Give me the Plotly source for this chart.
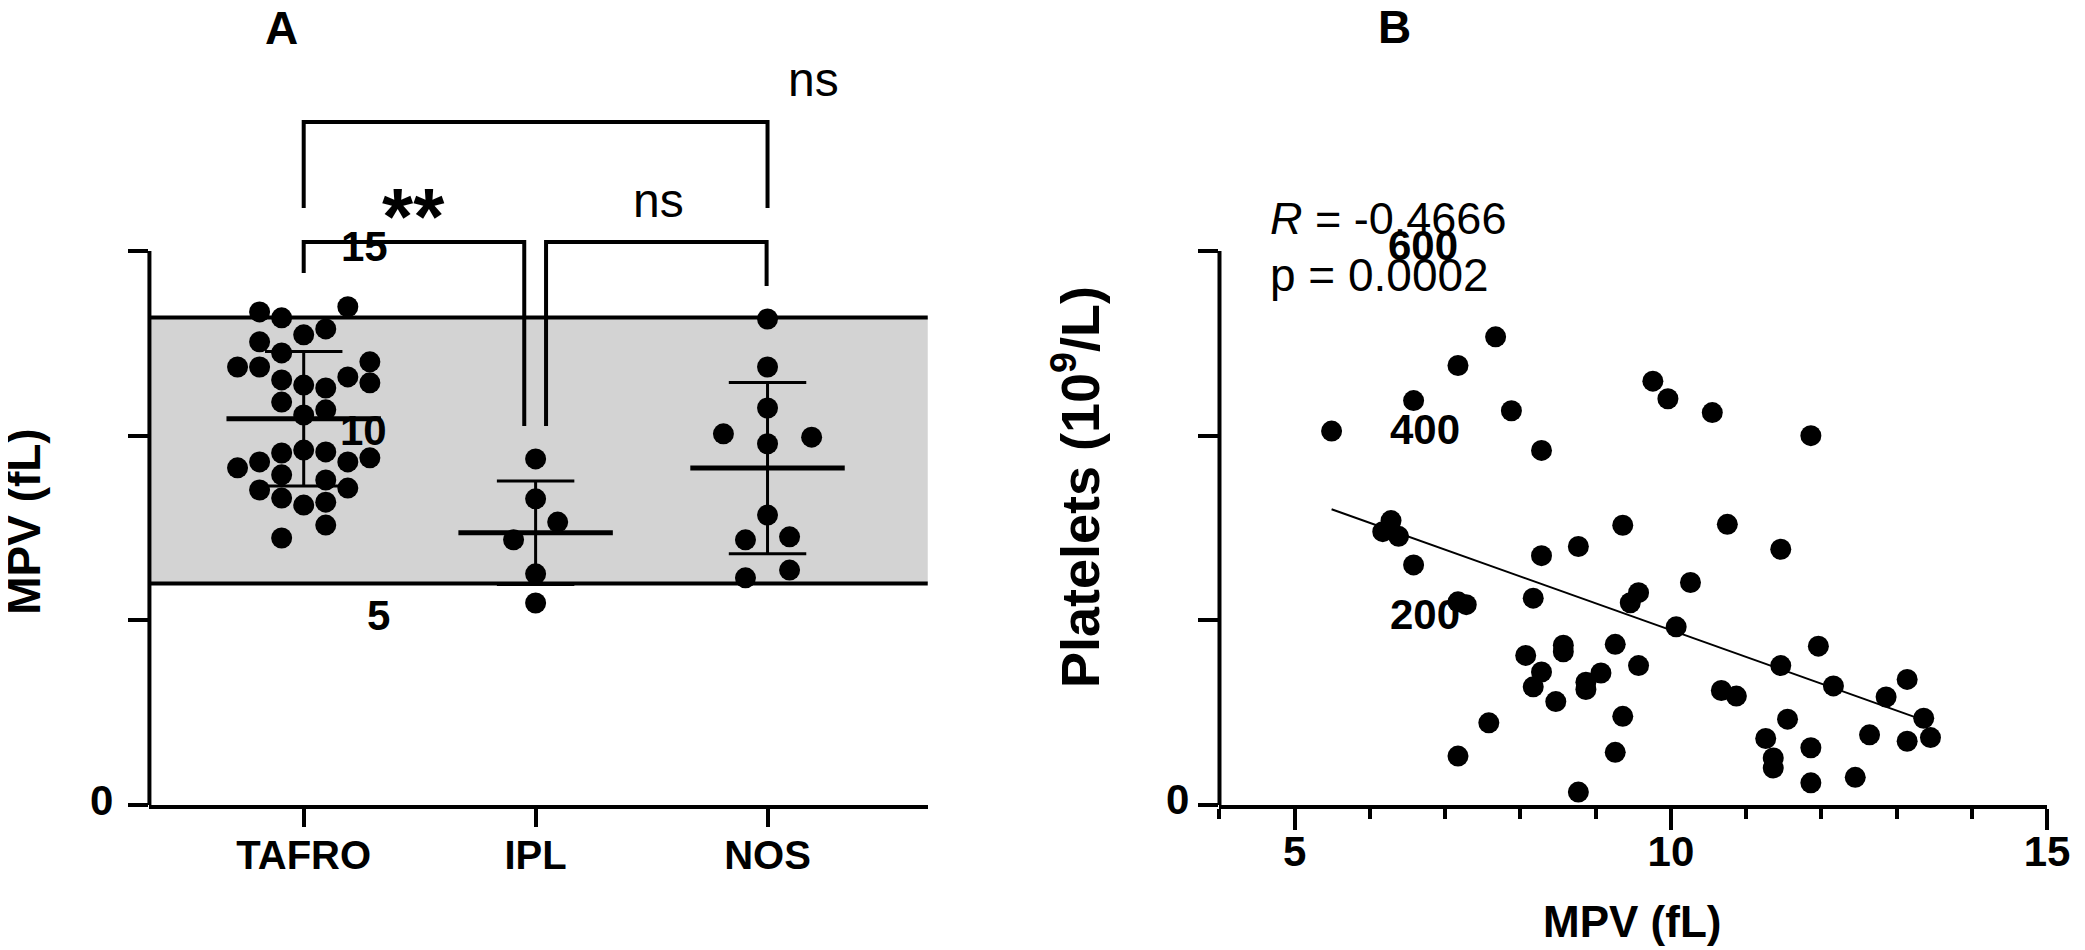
import numpy as np
import plotly.graph_objects as go

W, H = 2085, 950
OFF_X, OFF_Y = 0, 8            # page offset of the figure in the photographed window
FONT = "Liberation Sans, Arial, sans-serif"

# ---------------- Panel A data ----------------
groups = ["TAFRO", "IPL", "NOS"]
tafro_mpv = [13.35, 13.19, 13.49, 12.89, 12.73, 12.54, 12.24, 11.86, 11.86, 12.00,
             11.59, 11.43, 11.51, 11.37, 11.29, 10.91, 10.70, 10.56, 9.61, 9.53,
             9.56, 9.29, 9.29, 9.40, 9.13, 8.94, 8.80, 8.53, 8.58, 8.31,
             8.12, 8.20, 7.58, 7.23]
tafro_slot = [-2, -1, 2, 1, 0, -2, -1, -3, -2, 3, 2, 3, -1, 0, 1, -1, 1, 0,
              0, -1, 1, -2, 2, 3, -3, -1, 1, -2, 2, -1, 0, 1, 1, -1]
ipl_mpv = [9.37, 8.29, 7.66, 7.18, 6.26, 5.47]
ipl_slot = [0, 0, 1, -1, 0, 0]
nos_mpv = [13.16, 11.86, 10.75, 10.05, 9.96, 9.78, 7.85, 7.18, 7.26, 6.15, 6.36]
nos_slot = [0, 0, 0, -2, 2, 0, 0, -1, 1, -1, 1]
ref_range = [6.0, 13.2]
a_ticks = [0, 5, 10, 15]
a_tick_text = ["0", "5", "10", "15"]

# significance comparisons: (from, to, label)
comparisons = [(0, 2, "ns"), (0, 1, "**"), (1, 2, "ns")]

# ---------------- Panel B data ----------------
mpv_b = [5.49, 6.58, 7.17, 7.67, 7.88, 8.28, 6.28, 6.17, 6.38, 6.58, 7.17, 7.28,
         8.17, 8.28, 8.77, 9.36, 9.46, 8.07, 8.28, 8.17, 8.57, 8.57, 8.47, 8.87,
         8.87, 9.07, 9.26, 7.58, 7.17, 8.77, 9.36, 9.26,
         9.76, 9.96, 10.55, 11.86, 10.75, 11.46, 10.26, 9.57, 10.07, 11.96, 9.57,
         11.46, 12.16, 10.67, 10.87, 13.14, 12.86, 13.36, 11.55, 11.26, 11.36,
         11.36, 11.86, 12.64, 13.14, 13.45, 11.86, 12.45]
platelets_b = [405, 438, 476, 507, 427, 384, 308, 296, 291, 260, 220, 217,
               224, 270, 280, 303, 219, 162, 144, 128, 173, 166, 112, 133,
               125, 143, 174, 89, 53, 14, 96, 57,
               459, 440, 425, 400, 304, 277, 241, 230, 193, 172, 151,
               151, 129, 124, 118, 136, 117, 94, 93, 72, 51,
               40, 62, 76, 69, 73, 24, 30]
b_yticks = [0, 200, 400, 600]
b_xticks = [5, 10, 15]
r_text = "<i>R</i> = -0.4666"
p_text = "p = 0.0002"

# ---------------- geometry (page pixels) ----------------
A_X0, A_X1 = 143, 930          # panel A plot area, x
B_X0, B_X1 = 1225, 2062        # panel B plot area, x
Y_ZERO = 805                   # pixel row of y = 0 (both panels)
A_PX_PER_UNIT = (805 - 251) / 15.0
B_PX_PER_UNIT = (805 - 251) / 600.0
CAT_PX = 234.5                 # px between categories
CAT0_PX = 299                  # px of first category
SLOT = 22.3 / CAT_PX           # swarm column width in category units


def fx(px):
    return (px - OFF_X) / W


def fy(py):
    return 1 - (py - OFF_Y) / H


a_xrange = [(A_X0 - CAT0_PX) / CAT_PX, (A_X1 - CAT0_PX) / CAT_PX]
a_yrange = [0, (Y_ZERO - OFF_Y) / A_PX_PER_UNIT]
b_yrange = [0, (Y_ZERO - OFF_Y) / B_PX_PER_UNIT]

fig = go.Figure()

# ---------------- Panel A traces ----------------
data_a = [tafro_mpv, ipl_mpv, nos_mpv]
slots_a = [tafro_slot, ipl_slot, nos_slot]
for gi, vals in enumerate(data_a):
    v = np.array(vals)
    m = v.mean()
    sd = v.std(ddof=1)
    fig.add_trace(go.Scatter(x=[gi - 0.333, gi + 0.333], y=[m, m], mode="lines",
                             line=dict(color="black", width=5), xaxis="x", yaxis="y",
                             showlegend=False, hoverinfo="skip"))
    fig.add_trace(go.Scatter(x=[gi, gi], y=[m - sd, m + sd], mode="lines",
                             line=dict(color="black", width=3), xaxis="x", yaxis="y",
                             showlegend=False, hoverinfo="skip"))
    for yy in (m - sd, m + sd):
        fig.add_trace(go.Scatter(x=[gi - 0.167, gi + 0.167], y=[yy, yy], mode="lines",
                                 line=dict(color="black", width=3), xaxis="x", yaxis="y",
                                 showlegend=False, hoverinfo="skip"))

for gi, (vals, slots) in enumerate(zip(data_a, slots_a)):
    xs = [gi + s * SLOT for s in slots]
    fig.add_trace(go.Scatter(x=xs, y=vals, mode="markers",
                             marker=dict(color="black", size=21, line=dict(width=0)),
                             xaxis="x", yaxis="y", showlegend=False, name=groups[gi]))

# ---------------- Panel B traces ----------------
xb = np.array(mpv_b)
yb = np.array(platelets_b)
slope, intercept = np.polyfit(xb, yb, 1)
xl = np.array([xb.min(), xb.max()])
fig.add_trace(go.Scatter(x=xl, y=slope * xl + intercept, mode="lines",
                         line=dict(color="black", width=2), xaxis="x2", yaxis="y2",
                         showlegend=False, hoverinfo="skip"))
fig.add_trace(go.Scatter(x=mpv_b, y=platelets_b, mode="markers",
                         marker=dict(color="black", size=21, line=dict(width=0)),
                         xaxis="x2", yaxis="y2", showlegend=False))

# ---------------- shapes ----------------
shapes = []
shapes.append(dict(type="rect", xref="x domain", yref="y", x0=0, x1=1,
                   y0=ref_range[0], y1=ref_range[1], fillcolor="#D3D3D3",
                   line=dict(width=0), layer="below"))
for rv in ref_range:
    shapes.append(dict(type="line", xref="x domain", yref="y", x0=0, x1=1, y0=rv, y1=rv,
                       line=dict(color="black", width=4), layer="below"))
shapes.append(dict(type="line", xref="x domain", yref="y", x0=0, x1=0, y0=0, y1=a_ticks[-1],
                   line=dict(color="black", width=4)))
shapes.append(dict(type="line", xref="x2 domain", yref="y2", x0=0, x1=0, y0=0, y1=b_yticks[-1],
                   line=dict(color="black", width=4)))


def ypx(py):
    return (Y_ZERO - py) / A_PX_PER_UNIT


def bracket(x0, x1, ytop, yleg0, yleg1):
    path = f"M {x0},{yleg0} L {x0},{ytop} L {x1},{ytop} L {x1},{yleg1}"
    return dict(type="path", xref="x", yref="y", path=path,
                line=dict(color="black", width=4))


shapes.append(bracket(comparisons[0][0], comparisons[0][1], ypx(122), ypx(208), ypx(208)))
shapes.append(bracket(comparisons[1][0], comparisons[1][1] - 0.049, ypx(242), ypx(273), ypx(426)))
shapes.append(bracket(comparisons[2][0] + 0.045, comparisons[2][1] - 0.004, ypx(242), ypx(426), ypx(286)))

# ---------------- annotations ----------------
ann = []


def text(x, y, t, size, bold=False, xanchor="center", yanchor="middle", angle=0,
         yref="paper", yshift=0):
    ann.append(dict(x=x, y=y, xref="paper", yref=yref, text=(f"<b>{t}</b>" if bold else t),
                    showarrow=False, xanchor=xanchor, yanchor=yanchor, textangle=angle,
                    yshift=yshift, font=dict(family=FONT, size=size, color="black")))


text(fx(277), fy(28), "A", 46, bold=True)
text(fx(1402), fy(27), "B", 46, bold=True)

a_label_x = {0: 108, 5: 388, 10: 385, 15: 386}
for v, t in zip(a_ticks, a_tick_text):
    text(fx(a_label_x[v]), v, t, 42, bold=True, xanchor="right", yref="y", yshift=5)

b_label_x = {0: 1196, 200: 1470, 400: 1470, 600: 1468}
for v in b_yticks:
    text(fx(b_label_x[v]), v, str(v), 42, bold=True, xanchor="right", yref="y2", yshift=6)

text(fx(16), fy(521), "MPV (fL)", 46, bold=True, angle=-90)
text(fx(1080), fy(487), "Platelets (10<sup>9</sup>/L)", 54, bold=True, angle=-90)
text(fx(1642), fy(921), "MPV (fL)", 44, bold=True)

text(fx(814), fy(80), comparisons[0][2], 48)
text(fx(410), fy(216), comparisons[1][2], 80, bold=True)
text(fx(658), fy(200), comparisons[2][2], 48)

text(fx(1274), fy(218), r_text, 45, xanchor="left")
text(fx(1274), fy(275), p_text, 46, xanchor="left")

axis_common = dict(showgrid=False, zeroline=False, ticks="outside", tickcolor="black",
                   tickwidth=4, fixedrange=True)

fig.update_layout(
    width=W, height=H,
    margin=dict(l=0, r=0, t=0, b=0),
    paper_bgcolor="white", plot_bgcolor="white",
    showlegend=False,
    font=dict(family=FONT, color="black"),
    shapes=shapes,
    annotations=ann,
    xaxis=dict(domain=[fx(A_X0), fx(A_X1)], range=a_xrange, anchor="y",
               tickmode="array", tickvals=[0, 1, 2],
               ticktext=[f"<b>{g}</b>" for g in groups],
               tickfont=dict(family=FONT, size=40, color="black"),
               ticklabelstandoff=-6,
               ticklen=18, showline=True, linewidth=4, linecolor="black", **axis_common),
    yaxis=dict(domain=[fy(Y_ZERO), 1], range=a_yrange, anchor="x",
               tickmode="array", tickvals=a_ticks, showticklabels=False,
               ticklen=20, showline=False, **axis_common),
    xaxis2=dict(domain=[fx(B_X0), fx(B_X1)], range=[4, 15.002], anchor="y2",
                tickmode="array", tickvals=b_xticks,
                ticktext=[f"<b>{v}</b>" for v in b_xticks],
                tickfont=dict(family=FONT, size=42, color="black"),
                ticklabelstandoff=-14, ticklabeloverflow="allow",
                ticklen=21, showline=True, linewidth=4, linecolor="black",
                minor=dict(ticks="outside", dtick=1, tick0=0, ticklen=10, tickwidth=4,
                           tickcolor="black"),
                **axis_common),
    yaxis2=dict(domain=[fy(Y_ZERO), 1], range=b_yrange, anchor="x2",
                tickmode="array", tickvals=b_yticks, showticklabels=False,
                ticklen=20, showline=False, **axis_common),
)

fig.write_html("out.html")
